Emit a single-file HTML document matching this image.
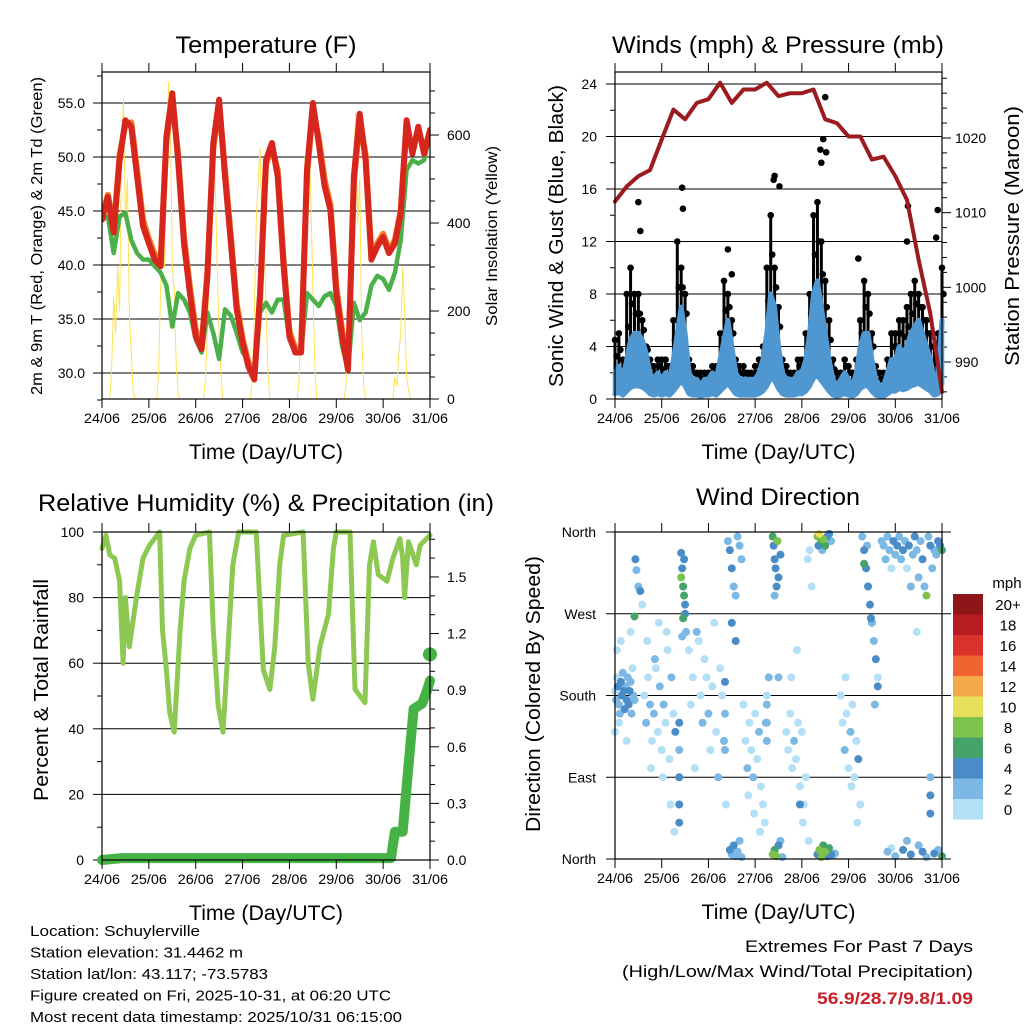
<!DOCTYPE html>
<html><head><meta charset="utf-8"><style>
html,body{margin:0;padding:0;background:#fff;}
svg{display:block;font-family:"Liberation Sans",sans-serif;}
</style></head><body>
<svg id="c" width="1024" height="1024" viewBox="0 0 1024 1024" xmlns="http://www.w3.org/2000/svg"></svg>
<script>
// ---------- DATA ----------
const dayLabels = ["24/06","25/06","26/06","27/06","28/06","29/06","30/06","31/06"];
// Temperature, 3-hourly (h = 0..168)
const tempRed = [44.2,46.3,43,49.7,53.4,52.8,48.2,43.6,42,40.5,39.9,51.9,55.9,49.7,42,37.4,33.4,32.2,39,51.3,55.3,48.2,42,35.9,32.8,30.6,29.4,37.4,49.7,51.3,48.2,39.9,33.4,31.9,31.9,48.8,55,51.3,47.3,45.1,37.4,33.4,30.3,48.2,54,49.7,40.5,41.7,42.6,41.1,42,44.8,53.4,50.3,52.8,50.3,52.5];
const tempOrange = [44.6,46.5,43.4,50.2,53,53.2,48.8,44.2,42.4,41,40.3,51.5,55.2,50.3,42.6,38,34,32.6,39.4,50.8,54.8,48.8,42.6,36.4,33.2,31,29.6,37,49.3,50.9,48.8,40.4,33.9,32.3,32.2,48.3,54.3,51.8,47.9,45.6,38,34,30.7,47.6,53.4,50.2,41,42,42.9,41.4,42.3,45.1,52.8,50.6,52.6,50.6,52.3];
const tempDew = [44.2,44.5,41.1,44.5,44.8,42.3,41.1,40.5,40.5,39.9,39.3,38.1,34.3,37.4,36.8,35.6,33.1,31.9,35.6,33.7,31.3,35.9,35.3,33.7,31.9,31.3,29.4,35.6,36.5,35.6,36.8,36.8,33.1,31.9,31.9,37.4,36.8,36.2,37.1,37.4,36.2,32.5,30.3,36.5,34.9,35.6,38.1,39,38.7,37.7,39.3,42.3,48.8,49.7,49.4,49.7,52.2];
// Solar insolation, hourly per day
const solarDay0 = [0,0,0,0,0,80,230,150,300,200,550,680,400,500,200,100,20,0,0,0,0,0,0,0];
const solarDay1 = [0,0,0,0,0,60,250,400,300,500,720,650,300,250,80,10,0,0,0,0,0,0,0,0];
const solarDay2 = [0,0,0,0,0,50,150,300,450,580,500,300,150,50,0,0,0,0,0,0,0,0,0,0];
const solarDay3 = [0,0,0,0,0,40,200,400,500,570,350,400,200,60,0,0,0,0,0,0,0,0,0,0];
const solarDay4 = [0,0,0,0,0,50,200,400,550,500,600,450,250,80,0,0,0,0,0,0,0,0,0,0];
const solarDay5 = [0,0,0,0,0,30,150,300,450,550,650,400,500,150,30,0,0,0,0,0,0,0,0,0];
const solarDay6 = [0,0,0,0,0,0,50,30,100,150,300,200,50,20,0,0,0,0,0,0,0,0,0,0,0];
// Winds, 2-hourly
const windSonic = [2,2.5,1.5,3,4.5,5,5,4.5,3.5,2,1.5,2, 1.5,2,1.5,3,5,7,5,2,1.5,1.5,1,1.5, 1.5,2,1.5,3,4.5,6,4,2,1.5,1.5,1.5,1.5, 1.5,2,3,5,8,7,4,2,1.5,1.5,1.5,2, 2,3,5,8,9,7,5,3,1.5,1,1.5,2, 1.5,1,2,4,5,5,3,1.5,1,1,2,3, 3,4,3.5,4,5,5.5,6,5,4,3,1.5,2,6];
const windGust = [4.5,5,3,8,10,8,8,6,4,3,2.5,3, 3,3,2.5,6,12,10,8,3,2.5,2,2,2, 2,2.5,2.5,5,9,8,6,3,2.5,2.5,2,2, 2.5,3,4,10,14,10,7,3,2.5,2,2,3, 3,5,8,14,15,12,9,6,3,2,2,3, 2.5,2,3,6,9,8,5,2.5,2,2,3,5, 5,6,6,7,8,9,8,7,6,5,4,5,10];
const gustPeakHours = [12,13,34.5,34.9,58,60,81.5,82,84.5,105.5,107,106,108,108.5,125,150.5,150,165.8,165];
const gustPeakValues = [15,12.8,16.1,14.5,11.4,9.5,16.7,17,16.2,19,19.8,18,23,18.8,10.7,14.7,12,14.4,12.3];
// Pressure, 6-hourly
const pressure = [1011.5,1013.5,1014.9,1015.7,1019.8,1023.8,1022.5,1024.7,1025.2,1027.4,1024.7,1026.5,1026.5,1027.4,1025.6,1026,1026,1026.5,1022.5,1022,1020.2,1020.2,1017.1,1017.5,1014.9,1011.7,1003.7,996.5,986];
// Relative humidity
const rhHours = [0,2,4,6.5,9,10.8,12,14,17.6,21,24.4,29.5,31,33,34.7,37,40,42,45,48,55,57,59.5,62,64.6,67,70,79,82.6,86,88.5,91,93,103,105.6,108,111.6,116,118.5,120,127,129.6,134.7,137,139,141.5,146,149,152.6,154,155,157,161,163,168];
const rhValues = [95,99,93,92,85,60,80,65,80,92,96,100,70,58,45,39,70,85,95,99,100,70,47,39,65,90,100,100,58,52,65,90,99,100,60,49,65,75,95,100,100,52,48,90,97,87,85,92,98,92,80,97,90,96,99];
// Precipitation
const rainHours = [0,10,148,150,154,157,159.6,164,166.5,168];
const rainValues = [0,0.01,0.01,0.15,0.15,0.5,0.8,0.83,0.9,0.95];
const rainFinal = 1.09;
// Wind direction scatter
const wdHours = [0,0.5,1,1.5,2,2.5,3,3.5,4,4.5,5,5.5,6,6.5,7,7.5,8,8.5,9,9.5,10, 0,1,2,3,6,8, 10,10.5,11,12,13,14,
15,16,17,18,19,20,21,22,23,24,25,26,27,28,29,30,31,16.5,18.5,20.5,22.5,24.5,26.5,28.5,30.5, 33,33,33,33,33,
34,34.5,35,35.5,36,34,35,36,35.5,34.5,36.5,
38,40,42,44,46,48,50,52,54,56,39,41,43,45,47,49,51,53,55,57, 56.5,56.5,56.5,
58,59,60,61,62,63,64,65,60,62, 59,60,61,62,63,64,65,
66,67,68,69,70,71,72,73,74,75,76,77,78,79,68.5,71.5,74.5,77.5,
81,81.5,82,82.5,83,83.5,84,85,82,84, 81,82,83,84,85,86, 78,78,78,
88,89,90,91,92,93,94,95,96,97,98,99,100,101,90.5,93.5,96.5,99.5,95,
104,105,106,107,108,109,110,111,104.5,106.5, 104,105,106,107,108,109,110,111,112,113,
116,117,118,119,120,121,122,123,124,125,126,118.5,121.5,124.5,
127,128,129,130,131,132,133,134,135,129.5,131.5,133.5,128,
137,138,139,140,141,142,143,144,145,146,147,148,149,150,151,152,153,154,155,156,157,158,159,160,161,162,163,164,165,166,167,168,
140,144,148,152,156,160,164,168,142,150,158,166, 162,162,162,155,135];
const wdDirs = [185,175,200,190,170,160,195,180,205,185,165,190,175,200,170,185,195,160,210,180,175, 140,230,150,240,130,250, 267,330,318,300,295,280,
180,150,200,170,130,160,210,140,190,120,170,150,230,110,200,160,140,240,100,220,260,90,250,60,30, 40,60,90,120,150,
337,320,300,290,280,310,265,270,330,245,250,
230,200,250,180,220,160,190,140,210,130,170,100,240,150,200,120,260,90,180,60, 120,160,195,
350,340,320,300,290,355,345,330,260,240, 10,5,15,3,8,20,2,
170,130,100,150,120,90,160,110,140,80,60,40,180,200,70,50,30,150,
355,345,330,320,300,350,310,335,290,200, 5,10,3,15,20,2, 150,170,130,
140,120,160,100,130,110,150,80,140,60,90,330,340,300,200,230,40,20,60,
355,358,350,352,345,355,358,350,345,340, 5,10,2,15,8,3,12,5,4,6,
180,150,120,160,100,140,170,90,130,110,60,200,80,40,
355,340,320,300,280,260,240,220,190,345,265,170,325,
350,345,330,355,340,320,350,335,345,355,330,340,350,320,345,300,335,355,340,310,350,330,300,290,355,345,320,340,335,350,345,340,
8,3,10,5,15,2,6,3,12,20,8,10, 50,70,90,250,200];
const wdSpeeds = [1,3,1,4,3,2,4,5,3,4,5,2,4,3,5,4,3,2,1,3,2, 0.5,1,1,1,0.5,1, 6,4,3,3,4,1,
1,2,1,3,1,2,1,1,3,1,2,1,1,1,3,1,4,1,1,2,1,1,1,1,0.5, 4,4,4,3,4,
4,4,7,6,5,8,6,5,4,3,3,
1,1,2,1,1,2,1,1,1,2,1,1,1,2,1,1,1,2,1,1, 3,3,4,
3,4,4,3,2,2,3,2,4,4, 4,3,4,3,2,3,3,
1,1,2,1,1,3,1,1,2,1,1,1,1,2,1,1,1,3,
6,4,4,4,4,8,4,4,3,2, 8,6,8,4,3,2, 3,3,2,
1,1,1,1,2,1,1,1,1,1,1,1,1,1,1,1,1,1,4,
8,10,7,8,6,4,4,3,4,2, 4,8,8,6,8,5,6,4,3,2,
1,1,2,1,1,3,1,1,1,4,1,1,1,1,
3,4,4,4,4,3,3,4,4,3,5,2,6,
2,3,2,3,2,1,4,3,4,3,2,4,3,1,4,2,3,4,3,2,3,4,2,8,3,4,2,3,3,4,4,6,
2,3,4,4,2,3,4,6,1,3,4,3, 4,4,3,1,1];
const speedLabels = ["20+","18","16","14","12","10","8","6","4","2","0"];
const speedColors = ["#8e1518","#b71c22","#d9322a","#ef6431","#f4a94a","#e6e05a","#7cc24d","#46a36a","#4a8cc8","#7bb8e3","#b3e0f7"];

// ---------- DRAW ----------
const NS="http://www.w3.org/2000/svg";
const svg=document.getElementById('c');
function mk(tag,attrs,parent){const e=document.createElementNS(NS,tag);for(const k in attrs)e.setAttribute(k,attrs[k]);(parent||svg).appendChild(e);return e;}
function txt(s,x,y,size,anchor,parent,extra){const t=mk('text',Object.assign({x:x,y:y,'font-size':size,'text-anchor':anchor||'start',fill:'#000'},extra||{}),parent);t.textContent=s;return t;}
function grp(name){const g=mk('g',{});return g;}

function frame(g,x0,x1,y0,y1,name){
  const r=mk('rect',{x:x0,y:y0,width:x1-x0,height:y1-y0,fill:'none',stroke:'#000','stroke-width':1.2},g);
  
}
function xAxis(g,x0,x1,y0,y1,name){
  const ax=grp(name+'-x-axis');
  for(let i=0;i<dayLabels.length;i++){
    const x=x0+i*(x1-x0)/7;
    mk('line',{x1:x,x2:x,y1:y0-9,y2:y0,stroke:'#000','stroke-width':1},ax);
    mk('line',{x1:x,x2:x,y1:y1,y2:y1+9,stroke:'#000','stroke-width':1},ax);
    const t=txt(dayLabels[i],x,y1+24,14,'middle',ax,{textLength:36,lengthAdjust:'spacingAndGlyphs'});
    
  }
  const tt=txt('Time (Day/UTC)',(x0+x1)/2,y1+60,21,'middle',ax,{textLength:154,lengthAdjust:'spacingAndGlyphs'});
  
}
function grid(g,x0,x1,ys){ys.forEach(y=>mk('line',{x1:x0,x2:x1,y1:y,y2:y,stroke:'#000','stroke-width':1},g));}
function poly(g,pts,stroke,w,name){const p=mk('polyline',{points:pts.map(p=>p[0].toFixed(1)+','+p[1].toFixed(1)).join(' '),fill:'none',stroke:stroke,'stroke-width':w,'stroke-linejoin':'round','stroke-linecap':'round'},g);return p;}

// ===== Temperature panel =====
(function(){
  const x0=102,x1=430,y0=72,y1=399;
  const X=h=>x0+h/168*(x1-x0);
  const Y=v=>373-(v-30)*10.8;
  const S=v=>399-v*0.44;
  const g=grp('temperature-panel');
  const t=txt('Temperature (F)',266,53,24,'middle',g,{textLength:181,lengthAdjust:'spacingAndGlyphs'});
  
  const ticks=[30,35,40,45,50,55];
  grid(g,x0,x1,ticks.map(Y));
  for(let v=27.5;v<=57.5;v+=2.5){mk('line',{x1:x0-(v%5===0?9:5),x2:x0,y1:Y(v),y2:Y(v),stroke:'#000'},g);}
  ticks.forEach(v=>{const l=txt(v.toFixed(1),85,Y(v)+5,14,'end',g);});
  for(let v=0;v<=700;v+=50){if(S(v)<y0)break;mk('line',{x1:x1,x2:x1+(v%200===0?9:5),y1:S(v),y2:S(v),stroke:'#000'},g);}
  [0,200,400,600].forEach(v=>{const l=txt(String(v),447,S(v)+5,14,'start',g);});
  const yl=txt('2m & 9m T (Red, Orange) & 2m Td (Green)',0,0,16,'middle',g,{transform:'translate(42,236) rotate(-90)',textLength:318,lengthAdjust:'spacingAndGlyphs'});
  
  const yr=txt('Solar Insolation (Yellow)',0,0,16,'middle',g,{transform:'translate(497,236) rotate(-90)',textLength:180,lengthAdjust:'spacingAndGlyphs'});
  
  const cp=mk('clipPath',{id:'cpT'},g);mk('rect',{x:x0,y:y0,width:x1-x0,height:y1-y0},cp);
  const d=mk('g',{'clip-path':'url(#cpT)'},g);
  const solar=[].concat(solarDay0,solarDay1,solarDay2,solarDay3,solarDay4,solarDay5,solarDay6);
  poly(d,solar.map((v,i)=>[X(i),S(v)]),'#fde254',1,'solar-line');
  poly(d,tempDew.map((v,i)=>[X(i*3),Y(v)]),'#4bb04a',4.5,'dewpoint-line');
  poly(d,tempOrange.map((v,i)=>[X(i*3),Y(v)]),'#f47d20',6,'temp-9m-line');
  poly(d,tempRed.map((v,i)=>[X(i*3),Y(v)]),'#d7261e',6,'temp-2m-line');
  frame(g,x0,x1,y0,y1,'temperature');
  xAxis(g,x0,x1,y0,y1,'temperature');
})();

// ===== Winds panel =====
(function(){
  const x0=615,x1=942,y0=72,y1=399;
  const X=h=>x0+h/168*(x1-x0);
  const Y=v=>399-v*13.125;
  const P=p=>362-(p-990)*7.467;
  const g=grp('winds-panel');
  const t=txt('Winds (mph) & Pressure (mb)',778,53,24,'middle',g,{textLength:332,lengthAdjust:'spacingAndGlyphs'});
  
  const ticks=[0,4,8,12,16,20,24];
  grid(g,x0,x1,ticks.map(Y));
  for(let v=0;v<=24;v+=2){mk('line',{x1:x0-(v%4===0?9:5),x2:x0,y1:Y(v),y2:Y(v),stroke:'#000'},g);}
  ticks.forEach(v=>{const l=txt(String(v),597,Y(v)+5,14,'end',g);});
  for(let p=986;p<=1031;p+=2){if(P(p)>y1||P(p)<y0)continue;mk('line',{x1:x1,x2:x1+(p%10===0?9:5),y1:P(p),y2:P(p),stroke:'#000'},g);}
  [990,1000,1010,1020].forEach(v=>{const l=txt(String(v),955,P(v)+5,14,'start',g);});
  const yl=txt('Sonic Wind & Gust (Blue, Black)',0,0,20,'middle',g,{transform:'translate(563,236) rotate(-90)',textLength:302,lengthAdjust:'spacingAndGlyphs'});
  
  const yr=txt('Station Pressure (Maroon)',0,0,20,'middle',g,{transform:'translate(1019,236) rotate(-90)',textLength:260,lengthAdjust:'spacingAndGlyphs'});
  
  const cp=mk('clipPath',{id:'cpW'},g);mk('rect',{x:x0-5,y:y0,width:x1-x0+10,height:y1-y0},cp);
  const d=mk('g',{'clip-path':'url(#cpW)'},g);
  const gg=grp('gust-dots');d.appendChild(gg);
  windGust.forEach((v,i)=>{
    const x=X(i*2);
    const l=mk('line',{x1:x,x2:x,y1:Y(windSonic[i]),y2:Y(v),stroke:'#000','stroke-width':3,'stroke-linecap':'round'},gg);
    
    
    const c=mk('circle',{cx:x,cy:Y(v),r:3.3,fill:'#000'},gg);
    
    
    const c2=mk('circle',{cx:x+1.5,cy:Y((v+windSonic[i])/2),r:3.3,fill:'#000'},gg);
    
    
  });
  gustPeakHours.forEach((h,i)=>{
    const c=mk('circle',{cx:X(h),cy:Y(gustPeakValues[i]),r:3.3,fill:'#000'},gg);
    
    
  });
  windSonic.forEach((v,i)=>{const l=mk('line',{x1:X(i*2),x2:X(i*2),y1:Y(v),y2:Y(v*0.2),stroke:'#4f97d1','stroke-width':4.5},d);});
  poly(d,windSonic.map((v,i)=>[X(i*2),Y(v)]),'#4f97d1',5,'sonic-wind-line');
  poly(d,windSonic.map((v,i)=>[X(i*2),Y(v*0.2)]),'#4f97d1',5,'sonic-wind-band');
  poly(d,pressure.map((v,i)=>[X(i*6),P(v)]),'#9b1b1f',4,'pressure-line');
  frame(g,x0,x1,y0,y1,'winds');
  xAxis(g,x0,x1,y0,y1,'winds');
})();

// ===== RH panel =====
(function(){
  const x0=102,x1=430,y0=532,y1=860;
  const X=h=>x0+h/168*(x1-x0);
  const Y=v=>860-v*3.28;
  const R=v=>860-v*188.7;
  const g=grp('humidity-panel');
  const t=txt('Relative Humidity (%) & Precipitation (in)',266,511,24,'middle',g,{textLength:456,lengthAdjust:'spacingAndGlyphs'});
  
  const ticks=[0,20,40,60,80,100];
  grid(g,x0,x1,ticks.map(Y));
  for(let v=0;v<=100;v+=10){mk('line',{x1:x0-(v%20===0?9:5),x2:x0,y1:Y(v),y2:Y(v),stroke:'#000'},g);}
  ticks.forEach(v=>{const l=txt(String(v),84,Y(v)+5,14,'end',g);});
  for(let v=0;v<=1.75;v+=0.1){const vv=Math.round(v*10)/10;mk('line',{x1:x1,x2:x1+(Math.round(vv*10)%3===0?9:5),y1:R(vv),y2:R(vv),stroke:'#000'},g);}
  ['0.0','0.3','0.6','0.9','1.2','1.5'].forEach(s=>{const l=txt(s,447,R(parseFloat(s))+5,14,'start',g);});
  const yl=txt('Percent & Total Rainfall',0,0,20,'middle',g,{transform:'translate(48,690) rotate(-90)',textLength:222,lengthAdjust:'spacingAndGlyphs'});
  
  poly(g,rhHours.map((h,i)=>[X(h),Y(rhValues[i])]),'#8dc853',5,'humidity-line');
  poly(g,rainHours.map((h,i)=>[X(h),R(rainValues[i])]),'#46b245',10,'rainfall-line');
  const c=mk('circle',{cx:X(168),cy:R(rainFinal),r:7,fill:'#46b245'},g);
  
  frame(g,x0,x1,y0,y1,'humidity');
  xAxis(g,x0,x1,y0,y1,'humidity');
})();

// ===== Wind direction panel =====
(function(){
  const x0=615,x1=942,y0=532,y1=859;
  const X=h=>x0+h/168*(x1-x0);
  const Y=d=>859-d/360*327;
  const g=grp('wind-direction-panel');
  const t=txt('Wind Direction',778,505,24,'middle',g,{textLength:164,lengthAdjust:'spacingAndGlyphs'});
  
  const labs=['North','East','South','West','North'];
  labs.forEach((s,i)=>{const y=Y(i*90);mk('line',{x1:x0-9,x2:x1+9,y1:y,y2:y,stroke:'#000'},g);const l=txt(s,596,y+5,14,'end',g);});
  const yl=txt('Direction (Colored By Speed)',0,0,20,'middle',g,{transform:'translate(540,694) rotate(-90)',textLength:276,lengthAdjust:'spacingAndGlyphs'});
  
  const pts=grp('wind-direction-points');g.appendChild(pts);
  const order=wdHours.map((h,i)=>i).sort((a,b)=>wdSpeeds[a]-wdSpeeds[b]);
  order.forEach(i=>{
    const s=wdSpeeds[i];const idx=Math.min(10,Math.floor(s/2));
    const c=mk('circle',{cx:X(wdHours[i]),cy:Y(wdDirs[i]),r:4,fill:speedColors[10-idx]},pts);
    
    
  });
  frame(g,x0,x1,y0,y1,'wind-direction');
  xAxis(g,x0,x1,y0,y1,'wind-direction');
  const lg=grp('speed-legend');
  const u=txt('mph',1007,588,15,'middle',lg);
  speedLabels.forEach((s,i)=>{
    const y=594+i*20.5;
    const r=mk('rect',{x:953,y:y,width:30,height:20.6,fill:speedColors[i]},lg);
    
    const l=txt(s,1008,y+16,15,'middle',lg);
  });
})();

// ===== Footer text =====
(function(){
  const g=grp('station-info');
  const lines=[['Location: Schuylerville',170],['Station elevation: 31.4462 m',213],['Station lat/lon: 43.117; -73.5783',238],['Figure created on Fri, 2025-10-31, at 06:20 UTC',361],['Most recent data timestamp: 2025/10/31 06:15:00',372]];
  lines.forEach((l,i)=>{const t=txt(l[0],30,936+i*21.5,15,'start',g,{textLength:l[1],lengthAdjust:'spacingAndGlyphs'});});
  const e=grp('extremes-summary');
  const a=txt('Extremes For Past 7 Days',973,952,17,'end',e,{textLength:228,lengthAdjust:'spacingAndGlyphs'});
  const b=txt('(High/Low/Max Wind/Total Precipitation)',973,977,17,'end',e,{textLength:351,lengthAdjust:'spacingAndGlyphs'});
  const c=txt('56.9/28.7/9.8/1.09',973,1004,17,'end',e,{fill:'#c8202a','font-weight':'bold',textLength:156,lengthAdjust:'spacingAndGlyphs'});
})();
</script>
</body></html>
